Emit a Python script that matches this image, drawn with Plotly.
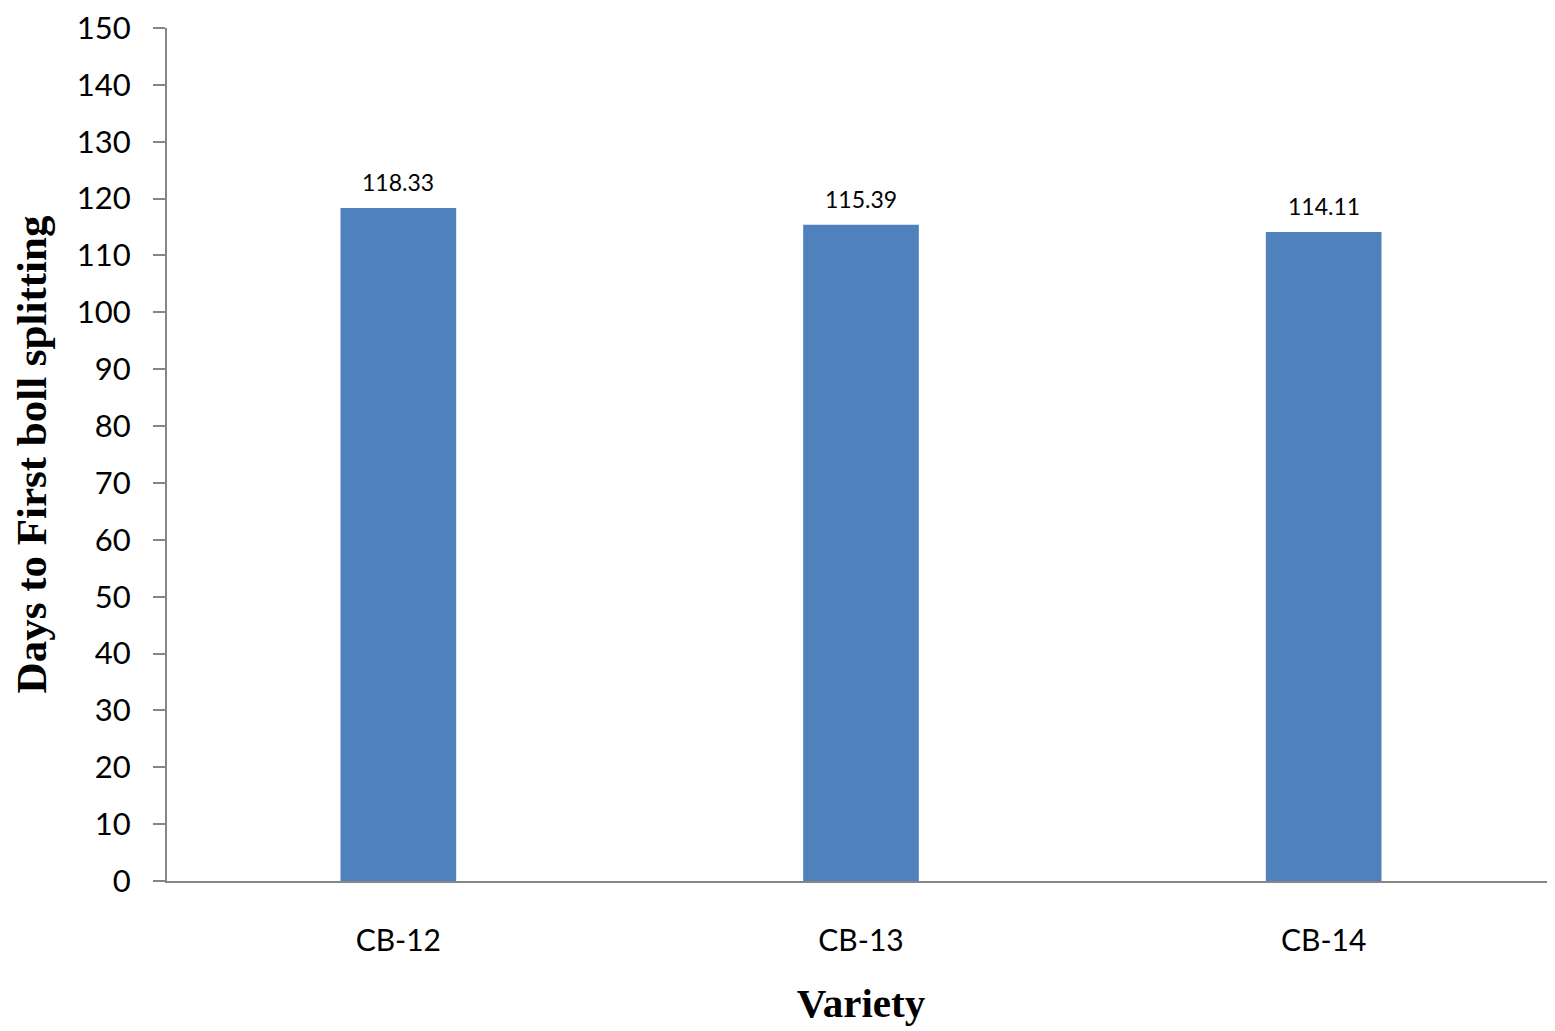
import plotly.graph_objects as go

categories = ["CB-12", "CB-13", "CB-14"]
values = [118.33, 115.39, 114.11]
labels = ["118.33", "115.39", "114.11"]
y_ticks = list(range(0, 151, 10))

fig = go.Figure()
fig.add_trace(go.Bar(
    x=categories, y=values,
    marker=dict(color="#4F81BD", line=dict(width=0)),
    width=0.25,
))
for c, v, t in zip(categories, values, labels):
    fig.add_annotation(x=c, y=v, text=t, showarrow=False, yanchor="bottom",
                       yshift=10, font=dict(family="Lato", size=23, color="#000000"))

fig.update_layout(
    width=1547, height=1023,
    margin=dict(l=159, r=0, t=16, b=150),
    plot_bgcolor="white", paper_bgcolor="white",
    showlegend=False,
    xaxis=dict(
        showline=True, linecolor="#868686", linewidth=2,
        ticks="", showgrid=False,
        tickfont=dict(family="Lato", size=30, color="#000000"),
        ticklabelstandoff=32,
        title=dict(text="<b>Variety</b>", font=dict(family="Liberation Serif", size=41, color="#000000"), standoff=32),
    ),
    yaxis=dict(
        range=[0, 150], tickvals=y_ticks,
        showline=True, linecolor="#868686", linewidth=2,
        ticks="outside", ticklen=12, tickcolor="#868686", tickwidth=2,
        showgrid=False, zeroline=False,
        tickfont=dict(family="Lato", size=31, color="#000000"),
        ticklabelstandoff=16, ticklabeloverflow="allow",
        title=dict(text="<b>Days to First boll splitting</b>", font=dict(family="Liberation Serif", size=43, color="#000000"), standoff=18),
    ),
)
fig.write_html("out.html")
